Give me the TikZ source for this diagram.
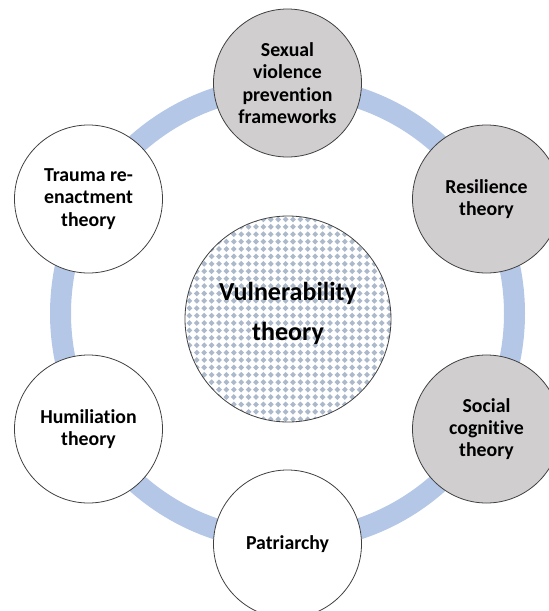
\documentclass[tikz,border=0pt]{standalone}
\usepackage{fontspec}
\setmainfont{Carlito}[Ligatures=NoCommon]
\definecolor{ringc}{HTML}{B4C7E7}
\definecolor{grayc}{HTML}{D0CECE}
\definecolor{edgec}{HTML}{404040}
\definecolor{dotc}{HTML}{ACB9CA}
\tikzset{
  outer/.style={circle, draw=edgec, line width=0.8pt, minimum size=148pt, inner sep=0pt,
    align=center, font=\fontsize{19.8}{22.3}\selectfont\bfseries, fill=white},
  grayfill/.style={fill=grayc},
  centre/.style={circle, draw=edgec, line width=0.8pt, minimum size=206pt, inner sep=0pt},
  centretext/.style={align=center, font=\fontsize{26}{40}\selectfont\bfseries},
  ring/.style={draw=ringc, line width=21pt}
}
\begin{document}
\begin{tikzpicture}[x=1pt,y=-1pt]
\useasboundingbox (0,0) rectangle (549,611);
\clip (0,0) rectangle (549,611);
\coordinate (O) at (287.5,313.5);
\draw[ring] (O) circle[radius=227];
% central patterned circle
\begin{scope}
  \clip (288,319) circle[radius=103];
  \foreach \i in {0,...,29}{
    \foreach \j in {0,...,29}{
      \fill[dotc] (182+\i*7.4,212+\j*7.4) +(0,-2.9) -- +(2.9,0) -- +(0,2.9) -- +(-2.9,0) -- cycle;
    }
  }
\end{scope}
\node[centre] (vul) at (288,319) {};
\node[centretext] (vult) at (288,313) {Vulnerability\\theory};
% outer circles
\node[outer, grayfill] (svp) at (287.5,83) {Sexual\\violence\\prevention\\frameworks};
\node[outer, grayfill] (res) at (486.5,199) {Resilience\\theory};
\node[outer, grayfill] (soc) at (486.5,429) {Social\\cognitive\\theory};
\node[outer] (pat) at (287.5,544) {Patriarchy};
\node[outer] (hum) at (88.5,429) {Humiliation\\theory};
\node[outer] (tra) at (88.5,199) {Trauma re-\\enactment\\theory};
\end{tikzpicture}
\end{document}
